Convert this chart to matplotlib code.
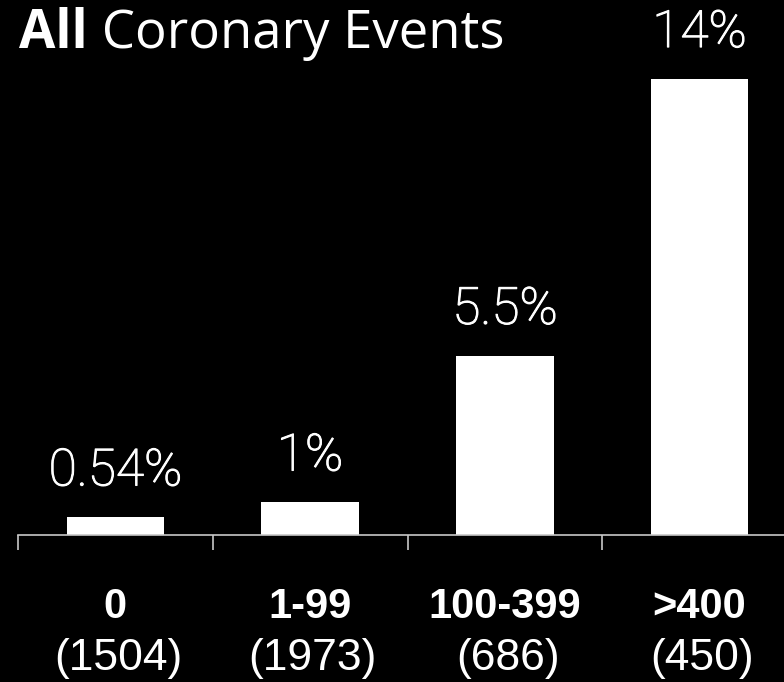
import matplotlib
matplotlib.use("Agg")
import matplotlib.pyplot as plt
import matplotlib.patheffects as pe

# Coronary event rates by calcium score group
categories = ["0", "1-99", "100-399", ">400"]
counts = ["(1504)", "(1973)", "(686)", "(450)"]
rates = [0.54, 1.0, 5.5, 14.0]
rate_labels = ["0.54%", "1%", "5.5%", "14%"]

W, H = 784, 682
fig = plt.figure(figsize=(W / 100, H / 100), dpi=100, facecolor="black")

# axes runs off the right edge so the last category keeps the same width
ax = fig.add_axes([18 / W, (H - 535) / H, 779 / W, 456 / H], facecolor="black")
x = list(range(len(categories)))
ax.bar(x, rates, width=0.5, color="white")
ax.set_xlim(-0.5, len(categories) - 0.5)
ax.set_ylim(0, 14)

for s in ["left", "right", "top"]:
    ax.spines[s].set_visible(False)
ax.spines["bottom"].set_color("#c8c8c8")
ax.spines["bottom"].set_linewidth(1.2)
ax.set_yticks([])
ax.set_xticks([i - 0.5 for i in x])
ax.set_xticklabels([])
ax.tick_params(axis="x", length=11, width=1.2, color="#c8c8c8")

# light face, thickened a touch with a white outline
thicken = [pe.withStroke(linewidth=0.8, foreground="white")]
for xi, r, lab in zip(x, rates, rate_labels):
    ax.annotate(lab, (xi, r), xytext=(0, 23), textcoords="offset points",
                ha="center", va="baseline", color="white", fontsize=37,
                family="Roboto", fontweight="light", annotation_clip=False,
                path_effects=thicken)

for xi, cat, n in zip(x, categories, counts):
    ax.annotate(cat, (xi, 0), xytext=(0, -52), textcoords="offset points",
                ha="center", va="center", color="white", fontsize=30,
                family="Liberation Sans", fontweight="bold", annotation_clip=False)
    ax.annotate(n, (xi, 0), xytext=(2, -89), textcoords="offset points",
                ha="center", va="center", color="white", fontsize=32,
                family="Liberation Sans", annotation_clip=False)

# title: bold first word, regular rest
t1 = fig.text(19 / W, 1 - 48 / H, "All", color="white", fontsize=38,
              family="Open Sans", fontweight="bold", va="baseline")
ax.annotate(" Coronary Events", xy=(1, 0), xycoords=t1, va="bottom", ha="left",
            color="white", fontsize=38, family="Open Sans", annotation_clip=False)

fig.savefig("out.png", dpi=100, facecolor="black")
